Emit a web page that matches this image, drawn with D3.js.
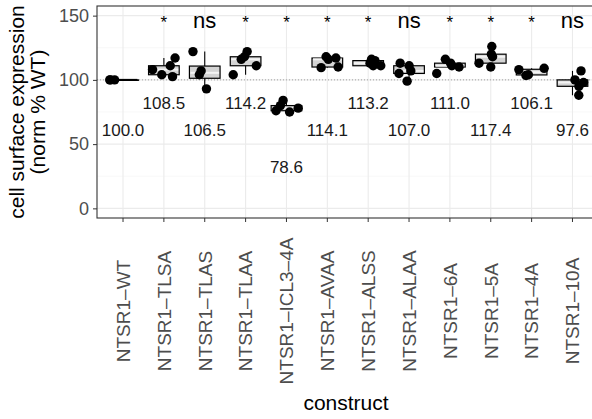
<!DOCTYPE html>
<html>
<head>
<meta charset="utf-8">
<script src="https://cdn.jsdelivr.net/npm/d3@7"></script>
<style>
  body { margin: 0; background: #fff; }
  svg { display: block; font-family: "Liberation Sans", Arial, sans-serif; }
</style>
</head>
<body>
<div id="chart"></div>
<script>
// constructs on the x axis
const constructs = ["NTSR1–WT", "NTSR1–TLSA", "NTSR1–TLAS", "NTSR1–TLAA", "NTSR1–ICL3–4A", "NTSR1–AVAA",
    "NTSR1–ALSS", "NTSR1–ALAA", "NTSR1–6A", "NTSR1–5A", "NTSR1–4A", "NTSR1–10A"];

const replicates = [
    [100, 100, 100],
    [117, 111, 108, 104, 102.5],
    [122, 93, 107, 104],
    [122, 118, 116, 111, 104],
    [84, 80, 78, 75, 76],
    [118, 117, 116, 110, 109.5],
    [116, 115, 113, 111, 111],
    [113, 111, 107, 105, 99],
    [116, 113, 111, 110, 105],
    [126, 120, 118, 113, 110],
    [109, 108, 104, 103.4],
    [107, 100, 98, 95, 88]
];

// significance vs WT
const signif = ["", "*", "ns", "*", "*", "*", "*", "ns", "*", "*", "*", "ns"];

const yTicks = [0, 50, 100, 150];
const yMinor = [25, 75, 125];

const width = 592, height = 419;
const panel = { left: 97, right: 597, top: 6, bottom: 218 };

const svg = d3.select("#chart")
    .append("svg")
    .attr("width", width)
    .attr("height", height);

const x = d3.scaleBand()
    .domain(constructs)
    .range([panel.left + 1.5, panel.right])
    .paddingOuter(0.1)
    .paddingInner(0);

const y = d3.scaleLinear()
    .domain([-7.5, 157.5])
    .range([panel.bottom, panel.top]);

const cx = d => x(d) + x.bandwidth() / 2;
const bw = x.bandwidth();

// grid
svg.append("g").selectAll("line")
    .data(yMinor)
    .enter().append("line")
    .attr("x1", panel.left).attr("x2", panel.right)
    .attr("y1", d => y(d)).attr("y2", d => y(d))
    .attr("stroke", "#f3f3f3").attr("stroke-width", 0.6);

svg.append("g").selectAll("line")
    .data(yTicks)
    .enter().append("line")
    .attr("x1", panel.left).attr("x2", panel.right)
    .attr("y1", d => y(d)).attr("y2", d => y(d))
    .attr("stroke", "#ebebeb").attr("stroke-width", 1.1);

svg.append("g").selectAll("line")
    .data(constructs)
    .enter().append("line")
    .attr("x1", d => cx(d)).attr("x2", d => cx(d))
    .attr("y1", panel.top).attr("y2", panel.bottom)
    .attr("stroke", "#ebebeb").attr("stroke-width", 1.1);

// reference line at 100%
svg.append("line")
    .attr("x1", panel.left).attr("x2", panel.right)
    .attr("y1", y(100)).attr("y2", y(100))
    .attr("stroke", "#8c8c8c").attr("stroke-width", 0.8)
    .attr("stroke-dasharray", "1,2");

// box stats
const stats = replicates.map((vals, i) => {
    const s = vals.slice().sort(d3.ascending);
    const q1 = d3.quantile(s, 0.25), med = d3.quantile(s, 0.5), q3 = d3.quantile(s, 0.75);
    const iqr = q3 - q1;
    const lo = d3.min(s.filter(v => v >= q1 - 1.5 * iqr));
    const hi = d3.max(s.filter(v => v <= q3 + 1.5 * iqr));
    return { name: constructs[i], q1, med, q3, lo, hi, mean: d3.mean(vals) };
});

const boxes = svg.append("g");
const boxW = bw * 0.75;

boxes.selectAll(".whisker")
    .data(stats)
    .enter().append("line")
    .attr("x1", d => cx(d.name)).attr("x2", d => cx(d.name))
    .attr("y1", d => y(d.lo)).attr("y2", d => y(d.hi))
    .attr("stroke", "#000").attr("stroke-width", 1.1);

boxes.selectAll(".box")
    .data(stats)
    .enter().append("rect")
    .attr("x", d => cx(d.name) - boxW / 2)
    .attr("width", boxW)
    .attr("y", d => y(d.q3))
    .attr("height", d => Math.max(y(d.q1) - y(d.q3), 0.5))
    .attr("fill", "#d4d4d4")
    .attr("stroke", "#000").attr("stroke-width", 1.2);

boxes.selectAll(".median")
    .data(stats)
    .enter().append("line")
    .attr("x1", d => cx(d.name) - boxW / 2 + 1).attr("x2", d => cx(d.name) + boxW / 2 - 1)
    .attr("y1", d => y(d.med)).attr("y2", d => y(d.med))
    .attr("stroke", d => d.q3 > d.q1 ? "#f4f4f4" : "#000").attr("stroke-width", 2);

// jittered points (deterministic jitter)
const jit = (i, j) => {
    const t = Math.sin(i * 12.9898 + j * 78.233) * 43758.5453;
    return (t - Math.floor(t)) - 0.5;
};
const pts = replicates.flatMap((vals, i) => vals.map((v, j) => ({ name: constructs[i], v, dx: jit(i, j) })));

svg.append("g").selectAll("circle")
    .data(pts)
    .enter().append("circle")
    .attr("cx", d => cx(d.name) + d.dx * bw * 0.65)
    .attr("cy", d => y(d.v))
    .attr("r", 4.7)
    .attr("fill", "#000");

// panel border
svg.append("rect")
    .attr("x", panel.left).attr("y", panel.top)
    .attr("width", panel.right - panel.left).attr("height", panel.bottom - panel.top)
    .attr("fill", "none").attr("stroke", "#333").attr("stroke-width", 1.1);

// mean labels, alternating rows; low values drop further
let k = 0;
svg.append("g").selectAll("text")
    .data(stats)
    .enter().append("text")
    .attr("x", d => cx(d.name))
    .attr("y", d => {
        if (d.mean < 90) return y(32);
        return y(k++ % 2 === 0 ? 61 : 82);
    })
    .attr("dy", "0.36em")
    .attr("text-anchor", "middle")
    .attr("font-size", "17px")
    .attr("fill", "#1a1a1a")
    .text(d => d.mean.toFixed(1));

// significance marks
svg.append("g").selectAll("text")
    .data(constructs.map((c, i) => ({ name: c, s: signif[i] })).filter(d => d.s))
    .enter().append("text")
    .attr("x", d => cx(d.name))
    .attr("y", y(140))
    .attr("text-anchor", "middle")
    .attr("font-size", d => d.s === "ns" ? "22px" : "17px")
    .attr("fill", "#000")
    .text(d => d.s);

// axes
const yAxis = svg.append("g")
    .attr("transform", `translate(${panel.left},0)`)
    .call(d3.axisLeft(y).tickValues(yTicks).tickSize(4).tickPadding(4));
yAxis.select(".domain").remove();
yAxis.selectAll("line").attr("stroke", "#333");
yAxis.selectAll("text").attr("fill", "#4d4d4d").style("font-size", "18px")
    .style("font-family", "'Liberation Sans', Arial, sans-serif");

const xAxis = svg.append("g")
    .attr("transform", `translate(0,${panel.bottom})`)
    .call(d3.axisBottom(x).tickSize(4));
xAxis.select(".domain").remove();
xAxis.selectAll("line").attr("stroke", "#333");
xAxis.selectAll("text")
    .attr("transform", "rotate(-90)")
    .attr("x", -93)
    .attr("y", 0)
    .attr("dy", "0.36em")
    .attr("text-anchor", "middle")
    .attr("fill", "#4d4d4d")
    .style("font-size", "19px")
    .style("font-family", "'Liberation Sans', Arial, sans-serif");

// titles
svg.append("text")
    .attr("x", 346)
    .attr("y", 410)
    .attr("text-anchor", "middle")
    .attr("font-size", "21px")
    .attr("fill", "#000")
    .text("construct");

const yTitle = svg.append("text")
    .attr("transform", `translate(25,${(panel.top + panel.bottom) / 2}) rotate(-90)`)
    .attr("text-anchor", "middle")
    .attr("font-size", "21px")
    .attr("fill", "#000");
yTitle.append("tspan").attr("x", 0).attr("y", -1).text("cell surface expression");
yTitle.append("tspan").attr("x", 0).attr("y", 20).text("(norm % WT)");
</script>
</body>
</html>
